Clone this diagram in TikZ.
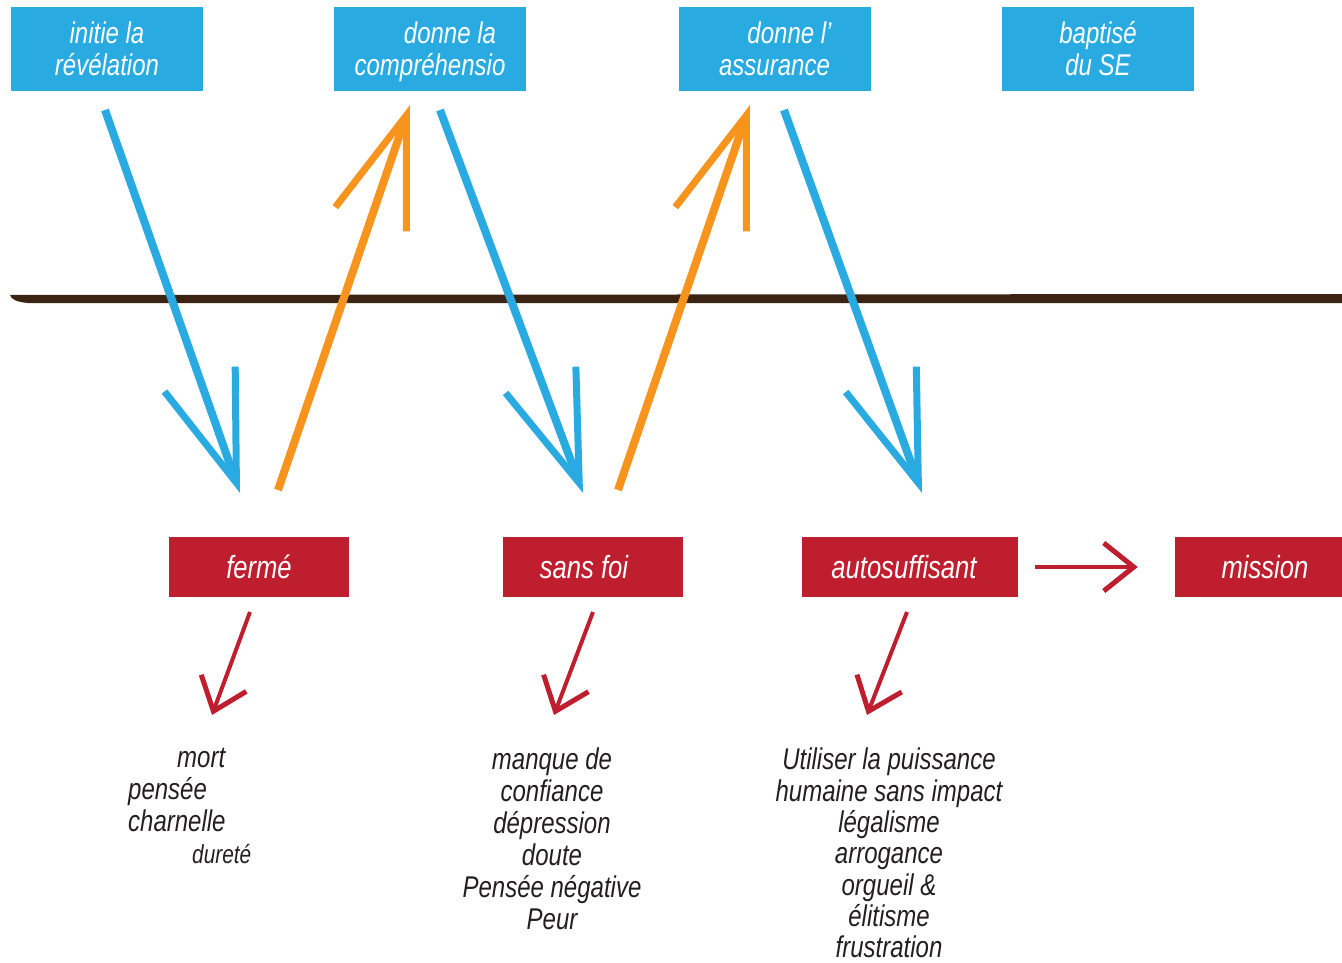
\documentclass[tikz,border=0pt]{standalone}
\usepackage{fontspec}
\setmainfont{Liberation Sans}[FakeStretch=0.8]
\usetikzlibrary{arrows.meta}
\definecolor{ciel}{RGB}{41,170,225}
\definecolor{orangee}{RGB}{247,148,30}
\definecolor{rouge}{RGB}{190,30,45}
\definecolor{brun}{RGB}{60,36,21}
\definecolor{encre}{RGB}{35,31,32}
\begin{document}
\begin{tikzpicture}[x=1pt,y=-1pt,
    every node/.style={font=\fontsize{30}{32}\selectfont\itshape},
    boite/.style={fill=ciel,text=white,minimum width=192pt,minimum height=84pt,inner sep=0pt,align=center},
    etat/.style={fill=rouge,text=white,minimum width=180pt,minimum height=60pt,inner sep=0pt,font=\fontsize{32}{34}\selectfont\itshape},
    liste/.style={text=encre,inner sep=0pt,align=center},
    fleche/.style={line width=8pt,-{Straight Barb[length=110pt,width=75pt,line width=7pt]}},
    bleue/.style={fleche,draw=ciel},
    orange/.style={fleche,draw=orangee},
    petite/.style={draw=rouge,line width=4pt,-{Straight Barb[length=30pt,width=48pt,line width=5pt]}}]
    \useasboundingbox (0,0) rectangle (1342,963);
    \node[boite] (revelation) at (107,49) {initie la\\révélation};
    \node[boite] (comprehension) at (430,49) {\hspace*{40pt}donne la\\\raisebox{0pt}[\height][0pt]{compréhensio}};
    \node[boite] (assurance) at (774.5,49) {\hspace*{30pt}donne l’\\assurance};
    \node[boite] (bapteme) at (1098,49) {baptisé\\du SE};
    \fill[brun] (10,295) -- (1342,294) -- (1342,303) -- (28,303) .. controls (16,302) and (11,299) .. (10,295) -- cycle;
    \node[etat] (ferme) at (259,567) {fermé};
    \node[etat] (sansfoi) at (593,567) {sans foi\hspace*{18pt}};
    \node[etat,minimum width=216pt] (autosuf) at (910,567) {autosuffisant\hspace*{12pt}};
    \node[etat] (mission) at (1265,567) {mission};
    \node[liste,align=left,anchor=north west] (fermelist) at (128,748) {\hspace*{49pt}mort\\pensée\\charnelle\\\hspace*{64pt}{\fontsize{26}{32}\selectfont dureté}};
    \node[liste,anchor=north] (sansfoilist) at (552,748) {manque de\\confiance\\dépression\\doute\\Pensée négative\\Peur};
    \node[liste,anchor=north,font=\fontsize{30}{31.3}\selectfont\itshape] (autosuflist) at (889,748) {Utiliser la puissance\\humaine sans impact\\légalisme\\arrogance\\orgueil \&\\élitisme\\frustration};
    \coordinate (r1) at (105,110);
    \coordinate (f1) at (240,493);
    \coordinate (f2) at (278,490);
    \coordinate (c1) at (410,105);
    \coordinate (c2) at (440,110);
    \coordinate (s1) at (583,493);
    \coordinate (s2) at (618,490);
    \coordinate (a1) at (750,105);
    \coordinate (a2) at (784,110);
    \coordinate (u1) at (922,493);
    \draw[bleue] (r1) -- (f1);
    \draw[orange] (f2) -- (c1);
    \draw[bleue] (c2) -- (s1);
    \draw[orange] (s2) -- (a1);
    \draw[bleue] (a2) -- (u1);
    \coordinate (m1) at (250,612);
    \coordinate (m2) at (212,715);
    \coordinate (d1) at (593,612);
    \coordinate (d2) at (554,715);
    \coordinate (l1) at (907,612);
    \coordinate (l2) at (867,715);
    \draw[petite] (m1) -- (m2);
    \draw[petite] (d1) -- (d2);
    \draw[petite] (l1) -- (l2);
    \draw[petite,shorten <=17pt,shorten >=37pt] (autosuf.east) -- (mission.west);
\end{tikzpicture}
\end{document}
